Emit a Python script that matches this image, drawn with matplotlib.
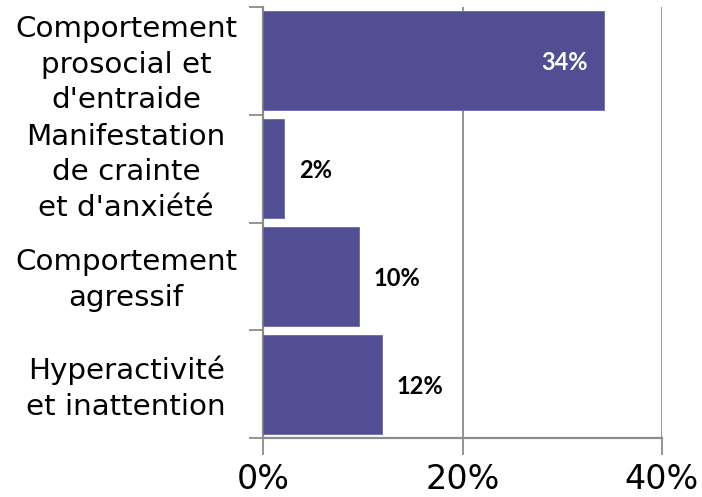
import matplotlib
matplotlib.use("Agg")
import matplotlib.pyplot as plt
from matplotlib.ticker import FixedLocator
import matplotlib.transforms as mtrans

categories = ["Comportement\nprosocial et\nd'entraide",
              "Manifestation\nde crainte\net d'anxiété",
              "Comportement\nagressif",
              "Hyperactivité\net inattention"]
values = [34.2, 2.1, 9.6, 11.9]
labels = ["34%", "2%", "10%", "12%"]
xticks = [0, 20, 40]
xticklabels = ["0%", "20%", "40%"]

bar_color = "#524E93"
grid_color = "#8C8C8C"

fig = plt.figure(figsize=(7.02, 4.97), dpi=100)
ax = fig.add_axes([263/702, 1-438/497, (662-263)/702, (438-7)/497])

n = len(categories)
ypos = list(range(n))[::-1]
ax.barh(ypos, values, height=0.92, color=bar_color, edgecolor="#6C68AA", linewidth=0.6, zorder=3)
ax.set_xlim(0, 40)
ax.set_ylim(-0.5, n-0.5)

ax.set_xticks(xticks)
ax.set_xticklabels(xticklabels, fontsize=24, family="DejaVu Sans")
ax.xaxis.grid(True, color=grid_color, linewidth=1.3, zorder=0)
ax.tick_params(axis="x", length=12, width=1.3, color=grid_color, pad=6)

ax.yaxis.set_major_locator(FixedLocator(ypos))
ax.set_yticklabels(categories, fontsize=21.2, family="DejaVu Sans", ha="center", linespacing=1.35)
ax.yaxis.set_minor_locator(FixedLocator([i-0.5 for i in range(n+1)]))
ax.tick_params(axis="y", which="major", length=0, pad=98.5)
ax.tick_params(axis="y", which="minor", length=10, width=1.3, color=grid_color)
shift = mtrans.ScaledTranslation(0, 3/100, fig.dpi_scale_trans)
for t in ax.get_yticklabels():
    t.set_transform(t.get_transform() + shift)

for s in ["top", "right"]:
    ax.spines[s].set_visible(False)
for s in ["left", "bottom"]:
    ax.spines[s].set_color(grid_color)
    ax.spines[s].set_linewidth(1.6)

for y, v, lab in zip(ypos, values, labels):
    if v > 20:
        tr = mtrans.offset_copy(ax.transData, fig=fig, x=-16, y=-2, units="dots")
        ax.text(v, y, lab, transform=tr, ha="right", va="center", color="white",
                fontsize=17, fontweight="bold", family="Lato", zorder=4)
    else:
        tr = mtrans.offset_copy(ax.transData, fig=fig, x=15, y=-2, units="dots")
        ax.text(v, y, lab, transform=tr, ha="left", va="center", color="black",
                fontsize=17, fontweight="bold", family="Lato", zorder=4)

fig.savefig("out.png", dpi=100)
